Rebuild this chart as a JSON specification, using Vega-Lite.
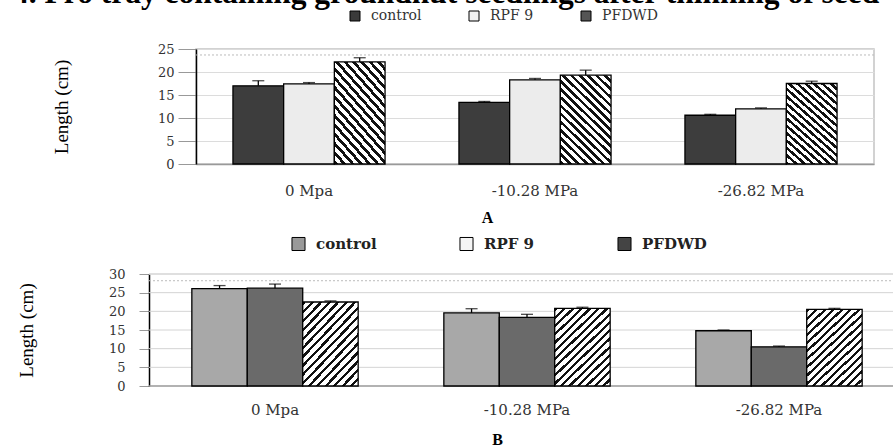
{
  "$schema": "https://vega.github.io/schema/vega-lite/v6.json",
  "padding": {"left": 12, "top": -24, "right": 0, "bottom": 0},
  "autosize": {"type": "pad"},
  "background": "white",
  "config": {
    "view": {"stroke": null},
    "axis": {"labelFont": "DejaVu Serif", "titleFont": "Liberation Serif", "labelColor": "#333", "titleColor": "#000", "titleFontWeight": "normal"},
    "legend": {"labelFont": "DejaVu Serif"}
  },
  "datasets": {
    "a": [
      {"group": "0 Mpa", "series": "control", "length": 17.0, "upper": 18.1},
      {"group": "0 Mpa", "series": "RPF 9", "length": 17.4, "upper": 17.7},
      {"group": "0 Mpa", "series": "PFDWD", "length": 22.2, "upper": 23.1},
      {"group": "-10.28 MPa", "series": "control", "length": 13.4, "upper": 13.6},
      {"group": "-10.28 MPa", "series": "RPF 9", "length": 18.3, "upper": 18.6},
      {"group": "-10.28 MPa", "series": "PFDWD", "length": 19.3, "upper": 20.4},
      {"group": "-26.82 MPa", "series": "control", "length": 10.6, "upper": 10.8},
      {"group": "-26.82 MPa", "series": "RPF 9", "length": 12.0, "upper": 12.2},
      {"group": "-26.82 MPa", "series": "PFDWD", "length": 17.5, "upper": 18.0}
    ],
    "b": [
      {"group": "0 Mpa", "series": "control", "length": 26.1, "upper": 26.9},
      {"group": "0 Mpa", "series": "RPF 9", "length": 26.2, "upper": 27.3},
      {"group": "0 Mpa", "series": "PFDWD", "length": 22.5, "upper": 22.8},
      {"group": "-10.28 MPa", "series": "control", "length": 19.6, "upper": 20.7},
      {"group": "-10.28 MPa", "series": "RPF 9", "length": 18.4, "upper": 19.2},
      {"group": "-10.28 MPa", "series": "PFDWD", "length": 20.8, "upper": 21.1},
      {"group": "-26.82 MPa", "series": "control", "length": 14.8, "upper": 15.0},
      {"group": "-26.82 MPa", "series": "RPF 9", "length": 10.5, "upper": 10.7},
      {"group": "-26.82 MPa", "series": "PFDWD", "length": 20.5, "upper": 20.8}
    ],
    "gridB": [{"level": 0}, {"level": 5}, {"level": 10}, {"level": 15}, {"level": 20}, {"level": 25}, {"level": 30}]
  },
  "columns": 1,
  "spacing": 10,
  "resolve": {"scale": {"fill": "independent", "y": "independent", "x": "independent", "xOffset": "independent"}, "legend": {"fill": "independent"}},
  "concat": [
    {
      "title": {"text": "4. Pro tray containing groundnut seedlings after thinning of seed", "anchor": "start", "frame": "group", "dx": -183, "offset": -25, "baseline": "alphabetic", "fontSize": 31.5, "font": "Liberation Serif", "fontWeight": "bold", "color": "#000"},
      "width": 678,
      "height": 115,
      "view": {"stroke": "#c4c4c4", "strokeWidth": 1.5},
      "data": {"name": "a"},
      "layer": [
        {
          "data": {"values": [{"level": 23.7}]},
          "mark": {"type": "rule", "strokeDash": [2, 2], "color": "#bbbbbb", "strokeWidth": 1},
          "encoding": {"y": {"field": "level", "type": "quantitative", "scale": {"domain": [0, 25]}, "axis": {"title": "Length (cm)", "values": [0, 5, 10, 15, 20, 25], "grid": true, "gridColor": "#dcdcdc", "domainColor": "#000", "domainWidth": 1.5, "tickColor": "#999", "tickSize": 18, "labelPadding": 4, "labelFontSize": 13, "titleFontSize": 19, "titlePadding": 86}}}
        },
        {
          "mark": {"type": "bar", "stroke": "#000", "strokeWidth": 1.3},
          "encoding": {
            "x": {"field": "group", "type": "nominal", "sort": ["0 Mpa", "-10.28 MPa", "-26.82 MPa"], "scale": {"paddingInner": 0.327, "paddingOuter": 0.1635}, "axis": {"title": "A", "labelAngle": 0, "labelFontSize": 15, "labelPadding": 19, "ticks": false, "domainColor": "#999", "domainWidth": 1.5, "titleFont": "Liberation Serif", "titleFontWeight": "bold", "titleFontSize": 16, "titlePadding": 11, "titleX": 291}},
            "xOffset": {"field": "series", "type": "nominal", "sort": ["control", "RPF 9", "PFDWD"]},
            "y": {"field": "length", "type": "quantitative", "scale": {"domain": [0, 25]}, "axis": {"title": "Length (cm)", "values": [0, 5, 10, 15, 20, 25], "grid": true, "gridColor": "#dcdcdc", "domainColor": "#000", "domainWidth": 1.5, "tickColor": "#999", "tickSize": 18, "labelPadding": 4, "labelFontSize": 13, "titleFontSize": 19, "titlePadding": 86}},
            "fill": {
              "field": "series", "type": "nominal",
              "scale": {"domain": ["control", "RPF 9", "PFDWD"], "range": ["#3a3a3a", "#f2f2f2", "#555555"]},
              "legend": {"orient": "none", "legendX": 152, "legendY": -40, "direction": "horizontal", "title": null, "symbolType": "square", "symbolSize": 100, "symbolStrokeColor": "#000", "symbolStrokeWidth": 1, "labelFontSize": 14, "labelColor": "#333", "labelOffset": 9, "columnPadding": 45},
              "condition": [
                {"test": "datum.series === 'control'", "value": "#3d3d3d"},
                {"test": "datum.series === 'RPF 9'", "value": "#ececec"},
                {"test": "datum.series === 'PFDWD'", "value": {"gradient": "linear", "x1": 0, "y1": 1, "x2": 0.66, "y2": -0.188, "stops": [
                  {"offset": 0, "color": "#111"}, {"offset": 0.0265, "color": "#111"}, {"offset": 0.0265, "color": "#fff"}, {"offset": 0.0588, "color": "#fff"},
                  {"offset": 0.0588, "color": "#111"}, {"offset": 0.0853, "color": "#111"}, {"offset": 0.0853, "color": "#fff"}, {"offset": 0.1176, "color": "#fff"},
                  {"offset": 0.1176, "color": "#111"}, {"offset": 0.1441, "color": "#111"}, {"offset": 0.1441, "color": "#fff"}, {"offset": 0.1765, "color": "#fff"},
                  {"offset": 0.1765, "color": "#111"}, {"offset": 0.2029, "color": "#111"}, {"offset": 0.2029, "color": "#fff"}, {"offset": 0.2353, "color": "#fff"},
                  {"offset": 0.2353, "color": "#111"}, {"offset": 0.2618, "color": "#111"}, {"offset": 0.2618, "color": "#fff"}, {"offset": 0.2941, "color": "#fff"},
                  {"offset": 0.2941, "color": "#111"}, {"offset": 0.3206, "color": "#111"}, {"offset": 0.3206, "color": "#fff"}, {"offset": 0.3529, "color": "#fff"},
                  {"offset": 0.3529, "color": "#111"}, {"offset": 0.3794, "color": "#111"}, {"offset": 0.3794, "color": "#fff"}, {"offset": 0.4118, "color": "#fff"},
                  {"offset": 0.4118, "color": "#111"}, {"offset": 0.4382, "color": "#111"}, {"offset": 0.4382, "color": "#fff"}, {"offset": 0.4706, "color": "#fff"},
                  {"offset": 0.4706, "color": "#111"}, {"offset": 0.4971, "color": "#111"}, {"offset": 0.4971, "color": "#fff"}, {"offset": 0.5294, "color": "#fff"},
                  {"offset": 0.5294, "color": "#111"}, {"offset": 0.5559, "color": "#111"}, {"offset": 0.5559, "color": "#fff"}, {"offset": 0.5882, "color": "#fff"},
                  {"offset": 0.5882, "color": "#111"}, {"offset": 0.6147, "color": "#111"}, {"offset": 0.6147, "color": "#fff"}, {"offset": 0.6471, "color": "#fff"},
                  {"offset": 0.6471, "color": "#111"}, {"offset": 0.6735, "color": "#111"}, {"offset": 0.6735, "color": "#fff"}, {"offset": 0.7059, "color": "#fff"},
                  {"offset": 0.7059, "color": "#111"}, {"offset": 0.7324, "color": "#111"}, {"offset": 0.7324, "color": "#fff"}, {"offset": 0.7647, "color": "#fff"},
                  {"offset": 0.7647, "color": "#111"}, {"offset": 0.7912, "color": "#111"}, {"offset": 0.7912, "color": "#fff"}, {"offset": 0.8235, "color": "#fff"},
                  {"offset": 0.8235, "color": "#111"}, {"offset": 0.85, "color": "#111"}, {"offset": 0.85, "color": "#fff"}, {"offset": 0.8824, "color": "#fff"},
                  {"offset": 0.8824, "color": "#111"}, {"offset": 0.9088, "color": "#111"}, {"offset": 0.9088, "color": "#fff"}, {"offset": 0.9412, "color": "#fff"},
                  {"offset": 0.9412, "color": "#111"}, {"offset": 0.9676, "color": "#111"}, {"offset": 0.9676, "color": "#fff"}, {"offset": 1, "color": "#fff"}
                ]}}
              ]
            }
          }
        },
        {
          "mark": {"type": "rule", "color": "#000", "strokeWidth": 1.3},
          "encoding": {
            "x": {"field": "group", "type": "nominal", "sort": ["0 Mpa", "-10.28 MPa", "-26.82 MPa"], "scale": {"paddingInner": 0.327, "paddingOuter": 0.1635}, "axis": {"title": "A", "labelAngle": 0, "labelFontSize": 15, "labelPadding": 19, "ticks": false, "domainColor": "#999", "domainWidth": 1.5, "titleFont": "Liberation Serif", "titleFontWeight": "bold", "titleFontSize": 16, "titlePadding": 11, "titleX": 291}},
            "xOffset": {"field": "series", "type": "nominal", "sort": ["control", "RPF 9", "PFDWD"]},
            "y": {"field": "length", "type": "quantitative", "scale": {"domain": [0, 25]}, "axis": {"title": "Length (cm)", "values": [0, 5, 10, 15, 20, 25], "grid": true, "gridColor": "#dcdcdc", "domainColor": "#000", "domainWidth": 1.5, "tickColor": "#999", "tickSize": 18, "labelPadding": 4, "labelFontSize": 13, "titleFontSize": 19, "titlePadding": 86}},
            "y2": {"field": "upper"}
          }
        },
        {
          "mark": {"type": "tick", "color": "#000", "thickness": 1.3, "size": 12},
          "encoding": {
            "x": {"field": "group", "type": "nominal", "sort": ["0 Mpa", "-10.28 MPa", "-26.82 MPa"], "scale": {"paddingInner": 0.327, "paddingOuter": 0.1635}, "axis": {"title": "A", "labelAngle": 0, "labelFontSize": 15, "labelPadding": 19, "ticks": false, "domainColor": "#999", "domainWidth": 1.5, "titleFont": "Liberation Serif", "titleFontWeight": "bold", "titleFontSize": 16, "titlePadding": 11, "titleX": 291}},
            "xOffset": {"field": "series", "type": "nominal", "sort": ["control", "RPF 9", "PFDWD"]},
            "y": {"field": "upper", "type": "quantitative", "scale": {"domain": [0, 25]}, "axis": {"title": "Length (cm)", "values": [0, 5, 10, 15, 20, 25], "grid": true, "gridColor": "#dcdcdc", "domainColor": "#000", "domainWidth": 1.5, "tickColor": "#999", "tickSize": 18, "labelPadding": 4, "labelFontSize": 13, "titleFontSize": 19, "titlePadding": 86}}
          }
        }
      ]
    },
    {
      "width": 697,
      "height": 112,
      "data": {"name": "b"},
      "resolve": {"scale": {"x": "independent"}},
      "layer": [
        {
          "data": {"name": "gridB"},
          "mark": {"type": "rule"},
          "encoding": {
            "x": {"datum": 0, "type": "quantitative", "scale": {"domain": [0, 1], "range": [-47, 697]}, "axis": null},
            "x2": {"datum": 1},
            "y": {"field": "level", "type": "quantitative", "scale": {"domain": [0, 30]}, "axis": {"title": "Length (cm)", "values": [0, 5, 10, 15, 20, 25, 30], "grid": false, "domainColor": "#000", "domainWidth": 1.5, "tickColor": "#999", "tickSize": 10, "labelPadding": 14, "labelFontSize": 13, "titleFontSize": 19, "titlePadding": 72, "offset": 47}},
            "color": {"condition": {"test": "datum.level === 0", "value": "#999999"}, "value": "#d4d4d4"},
            "strokeWidth": {"condition": {"test": "datum.level === 0 || datum.level === 30", "value": 1.5}, "value": 1}
          }
        },
        {
          "data": {"values": [{"level": 28.2}]},
          "mark": {"type": "rule", "strokeDash": [2, 2], "color": "#bbbbbb", "strokeWidth": 1},
          "encoding": {
            "x": {"datum": 0, "type": "quantitative", "scale": {"domain": [0, 1], "range": [-47, 697]}, "axis": null},
            "x2": {"datum": 1},
            "y": {"field": "level", "type": "quantitative", "scale": {"domain": [0, 30]}, "axis": {"title": "Length (cm)", "values": [0, 5, 10, 15, 20, 25, 30], "grid": false, "domainColor": "#000", "domainWidth": 1.5, "tickColor": "#999", "tickSize": 10, "labelPadding": 14, "labelFontSize": 13, "titleFontSize": 19, "titlePadding": 72, "offset": 47}}
          }
        },
        {
          "mark": {"type": "bar", "stroke": "#000", "strokeWidth": 1.3},
          "encoding": {
            "x": {"field": "group", "type": "nominal", "sort": ["0 Mpa", "-10.28 MPa", "-26.82 MPa"], "scale": {"range": [-47, 709], "paddingInner": 0.34, "paddingOuter": 0.17}, "axis": {"title": "B", "labelAngle": 0, "labelFontSize": 15, "labelPadding": 16, "ticks": false, "domain": false, "titleFont": "Liberation Serif", "titleFontWeight": "bold", "titleFontSize": 16, "titlePadding": 14, "titleX": 301}},
            "xOffset": {"field": "series", "type": "nominal", "sort": ["control", "RPF 9", "PFDWD"]},
            "y": {"field": "length", "type": "quantitative", "scale": {"domain": [0, 30]}, "axis": {"title": "Length (cm)", "values": [0, 5, 10, 15, 20, 25, 30], "grid": false, "domainColor": "#000", "domainWidth": 1.5, "tickColor": "#999", "tickSize": 10, "labelPadding": 14, "labelFontSize": 13, "titleFontSize": 19, "titlePadding": 72, "offset": 47}},
            "fill": {
              "field": "series", "type": "nominal",
              "scale": {"domain": ["control", "RPF 9", "PFDWD"], "range": ["#999999", "#f5f5f5", "#444444"]},
              "legend": {"orient": "none", "legendX": 95, "legendY": -38, "direction": "horizontal", "title": null, "symbolType": "square", "symbolSize": 170, "symbolStrokeColor": "#000", "symbolStrokeWidth": 1, "labelFontSize": 15, "labelFontWeight": "bold", "labelColor": "#222", "labelOffset": 10, "columnPadding": 80},
              "condition": [
                {"test": "datum.series === 'control'", "value": "#a8a8a8"},
                {"test": "datum.series === 'RPF 9'", "value": "#6a6a6a"},
                {"test": "datum.series === 'PFDWD'", "value": {"gradient": "linear", "x1": 0, "y1": 0, "x2": 0.79, "y2": 1.145, "stops": [
                  {"offset": 0, "color": "#111"}, {"offset": 0.0238, "color": "#111"}, {"offset": 0.0238, "color": "#fff"}, {"offset": 0.0625, "color": "#fff"},
                  {"offset": 0.0625, "color": "#111"}, {"offset": 0.0863, "color": "#111"}, {"offset": 0.0863, "color": "#fff"}, {"offset": 0.125, "color": "#fff"},
                  {"offset": 0.125, "color": "#111"}, {"offset": 0.1488, "color": "#111"}, {"offset": 0.1488, "color": "#fff"}, {"offset": 0.1875, "color": "#fff"},
                  {"offset": 0.1875, "color": "#111"}, {"offset": 0.2113, "color": "#111"}, {"offset": 0.2113, "color": "#fff"}, {"offset": 0.25, "color": "#fff"},
                  {"offset": 0.25, "color": "#111"}, {"offset": 0.2738, "color": "#111"}, {"offset": 0.2738, "color": "#fff"}, {"offset": 0.3125, "color": "#fff"},
                  {"offset": 0.3125, "color": "#111"}, {"offset": 0.3363, "color": "#111"}, {"offset": 0.3363, "color": "#fff"}, {"offset": 0.375, "color": "#fff"},
                  {"offset": 0.375, "color": "#111"}, {"offset": 0.3988, "color": "#111"}, {"offset": 0.3988, "color": "#fff"}, {"offset": 0.4375, "color": "#fff"},
                  {"offset": 0.4375, "color": "#111"}, {"offset": 0.4613, "color": "#111"}, {"offset": 0.4613, "color": "#fff"}, {"offset": 0.5, "color": "#fff"},
                  {"offset": 0.5, "color": "#111"}, {"offset": 0.5238, "color": "#111"}, {"offset": 0.5238, "color": "#fff"}, {"offset": 0.5625, "color": "#fff"},
                  {"offset": 0.5625, "color": "#111"}, {"offset": 0.5863, "color": "#111"}, {"offset": 0.5863, "color": "#fff"}, {"offset": 0.625, "color": "#fff"},
                  {"offset": 0.625, "color": "#111"}, {"offset": 0.6488, "color": "#111"}, {"offset": 0.6488, "color": "#fff"}, {"offset": 0.6875, "color": "#fff"},
                  {"offset": 0.6875, "color": "#111"}, {"offset": 0.7113, "color": "#111"}, {"offset": 0.7113, "color": "#fff"}, {"offset": 0.75, "color": "#fff"},
                  {"offset": 0.75, "color": "#111"}, {"offset": 0.7738, "color": "#111"}, {"offset": 0.7738, "color": "#fff"}, {"offset": 0.8125, "color": "#fff"},
                  {"offset": 0.8125, "color": "#111"}, {"offset": 0.8363, "color": "#111"}, {"offset": 0.8363, "color": "#fff"}, {"offset": 0.875, "color": "#fff"},
                  {"offset": 0.875, "color": "#111"}, {"offset": 0.8988, "color": "#111"}, {"offset": 0.8988, "color": "#fff"}, {"offset": 0.9375, "color": "#fff"},
                  {"offset": 0.9375, "color": "#111"}, {"offset": 0.9613, "color": "#111"}, {"offset": 0.9613, "color": "#fff"}, {"offset": 1, "color": "#fff"}
                ]}}
              ]
            }
          }
        },
        {
          "mark": {"type": "rule", "color": "#000", "strokeWidth": 1.3},
          "encoding": {
            "x": {"field": "group", "type": "nominal", "sort": ["0 Mpa", "-10.28 MPa", "-26.82 MPa"], "scale": {"range": [-47, 709], "paddingInner": 0.34, "paddingOuter": 0.17}, "axis": null},
            "xOffset": {"field": "series", "type": "nominal", "sort": ["control", "RPF 9", "PFDWD"]},
            "y": {"field": "length", "type": "quantitative", "scale": {"domain": [0, 30]}, "axis": {"title": "Length (cm)", "values": [0, 5, 10, 15, 20, 25, 30], "grid": false, "domainColor": "#000", "domainWidth": 1.5, "tickColor": "#999", "tickSize": 10, "labelPadding": 14, "labelFontSize": 13, "titleFontSize": 19, "titlePadding": 72, "offset": 47}},
            "y2": {"field": "upper"}
          }
        },
        {
          "mark": {"type": "tick", "color": "#000", "thickness": 1.3, "size": 12},
          "encoding": {
            "x": {"field": "group", "type": "nominal", "sort": ["0 Mpa", "-10.28 MPa", "-26.82 MPa"], "scale": {"range": [-47, 709], "paddingInner": 0.34, "paddingOuter": 0.17}, "axis": null},
            "xOffset": {"field": "series", "type": "nominal", "sort": ["control", "RPF 9", "PFDWD"]},
            "y": {"field": "upper", "type": "quantitative", "scale": {"domain": [0, 30]}, "axis": {"title": "Length (cm)", "values": [0, 5, 10, 15, 20, 25, 30], "grid": false, "domainColor": "#000", "domainWidth": 1.5, "tickColor": "#999", "tickSize": 10, "labelPadding": 14, "labelFontSize": 13, "titleFontSize": 19, "titlePadding": 72, "offset": 47}}
          }
        }
      ]
    }
  ]
}
